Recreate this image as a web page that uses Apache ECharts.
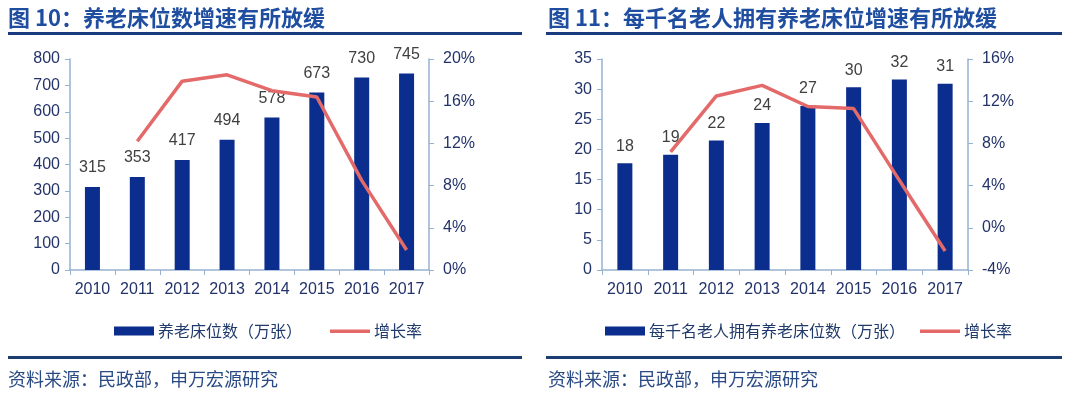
<!DOCTYPE html>
<html><head><meta charset="utf-8">
<script src="https://cdn.jsdelivr.net/npm/echarts@6/dist/echarts.min.js"></script>
<style>html,body{margin:0;padding:0;background:#fff}#c{width:1080px;height:403px}</style>
</head><body><div id="c"></div>
<script>
const years = ['2010','2011','2012','2013','2014','2015','2016','2017'];
const beds = [315, 353, 417, 494, 578, 673, 730, 745];
const bedsGrowth = [null, 12.2, 17.9, 18.5, 17.0, 16.4, 8.5, 1.9];
const perThousand = [17.7, 19.1, 21.5, 24.4, 27.2, 30.3, 31.6, 30.9];
const perThousandGrowth = [null, 7.2, 12.5, 13.5, 11.5, 11.3, 4.5, -2.2];
const leftTitle = '图 10：养老床位数增速有所放缓';
const rightTitle = '图 11：每千名老人拥有养老床位增速有所放缓';
const source = '资料来源：民政部，申万宏源研究';
const nameBeds = '养老床位数（万张）';
const namePer = '每千名老人拥有养老床位数（万张）';
const nameGrowth = '增长率';

const BAR = '#0b2d8e', LINE = '#e46a6a', AX = '#96b1d1', LAB = '#23336a';
const NUM = '"Liberation Sans", Arial, sans-serif';
const CJK = '"Noto Sans CJK SC", sans-serif';
const LINE_ICON = 'path://M0,0 M0,3h40v3.5h-40z M40,9';

function xAx(g){return {type:'category',gridIndex:g,data:years,
  axisLine:{lineStyle:{color:AX,width:1.5}},axisTick:{show:true,length:5,lineStyle:{color:AX}},
  axisLabel:{interval:0,color:LAB,fontSize:16,fontFamily:NUM,margin:12}};}
function yAx(g,pos,min,max,iv,fmt){return {type:'value',gridIndex:g,position:pos,min:min,max:max,interval:iv,
  splitLine:{show:false},axisLine:{show:true,lineStyle:{color:AX,width:1.5}},
  axisTick:{show:true,length:5,lineStyle:{color:AX}},
  axisLabel:{color:LAB,fontSize:16,fontFamily:NUM,margin:pos==='left'?10:14,formatter:fmt}};}

const chart = echarts.init(document.getElementById('c'));
chart.setOption({
  animation:false,
  grid:[{left:70,top:59,width:359,height:211},{left:602,top:59,width:366,height:211}],
  xAxis:[xAx(0),xAx(1)],
  yAxis:[yAx(0,'left',0,800,100,'{value}'),yAx(0,'right',0,20,4,'{value}%'),
         yAx(1,'left',0,35,5,'{value}'),yAx(1,'right',-4,16,4,'{value}%')],
  legend:[
    {left:109,top:318,itemWidth:40,itemHeight:9,itemGap:28,
     data:[{name:nameBeds,icon:'rect'},{name:nameGrowth,icon:LINE_ICON,itemStyle:{color:LINE}}],
     textStyle:{color:'#203a6c',fontSize:16,fontFamily:CJK,padding:[0,0,0,-1]}},
    {left:600,top:318,itemWidth:40,itemHeight:9,itemGap:15,
     data:[{name:namePer,icon:'rect'},{name:nameGrowth,icon:LINE_ICON,itemStyle:{color:LINE}}],
     textStyle:{color:'#203a6c',fontSize:16,fontFamily:CJK,padding:[0,0,0,-1]}}
  ],
  series:[
    {name:nameBeds,type:'bar',xAxisIndex:0,yAxisIndex:0,data:beds,barWidth:15,itemStyle:{color:BAR},
     label:{show:true,position:'top',distance:11,color:'#404040',fontSize:16,fontFamily:NUM}},
    {name:nameGrowth,type:'line',xAxisIndex:0,yAxisIndex:1,data:bedsGrowth,symbol:'none',
     lineStyle:{color:LINE,width:3.5},itemStyle:{color:LINE}},
    {name:namePer,type:'bar',xAxisIndex:1,yAxisIndex:2,data:perThousand,barWidth:15,itemStyle:{color:BAR},
     label:{show:true,position:'top',distance:9,color:'#404040',fontSize:16,fontFamily:NUM,
       formatter:p=>Math.round(p.value)}},
    {name:nameGrowth,type:'line',xAxisIndex:1,yAxisIndex:3,data:perThousandGrowth,symbol:'none',
     lineStyle:{color:LINE,width:3.5},itemStyle:{color:LINE}}
  ],
  graphic:[
    {type:'text',left:8,top:7,style:{text:leftTitle,fill:'#1f4ea0',font:'bold 22px '+CJK}},
    {type:'text',left:548,top:7,style:{text:rightTitle,fill:'#1f4ea0',font:'bold 22px '+CJK}},
    {type:'rect',shape:{x:8,y:32,width:514,height:3},style:{fill:'#1b3b80'}},
    {type:'rect',shape:{x:546,y:32,width:516,height:3},style:{fill:'#1b3b80'}},
    {type:'rect',shape:{x:8,y:356,width:514,height:3},style:{fill:'#1b3d72'}},
    {type:'rect',shape:{x:546,y:356,width:516,height:3},style:{fill:'#1b3d72'}},
    {type:'text',left:8,top:370,style:{text:source,fill:'#2a4a84',font:'18px '+CJK}},
    {type:'text',left:548,top:370,style:{text:source,fill:'#2a4a84',font:'18px '+CJK}}
  ]
});
</script></body></html>
